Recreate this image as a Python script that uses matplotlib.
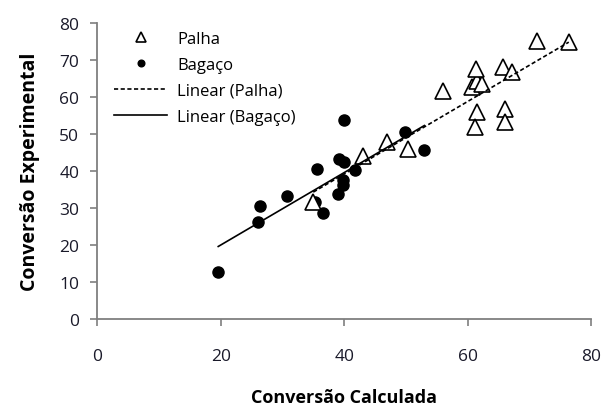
import numpy as np
import matplotlib
import matplotlib.pyplot as plt

matplotlib.use('Agg')

# Palha (triangles)
palha_x = [35.0, 43.1, 47.0, 50.4, 56.0, 60.7, 61.5, 62.3, 61.4, 65.7, 67.2, 71.2, 76.4, 61.5, 66.1, 61.2, 66.1]
palha_y = [31.6, 44.0, 47.8, 45.9, 61.6, 62.7, 64.3, 63.5, 67.6, 68.1, 66.8, 75.1, 74.9, 56.0, 56.8, 51.9, 53.2]

# Bagaco (dots)
bagaco_x = [19.6, 26.1, 26.4, 30.7, 35.3, 35.6, 36.6, 39.0, 39.2, 40.0, 39.8, 39.8, 40.0, 41.8, 49.9, 53.0]
bagaco_y = [12.7, 26.2, 30.5, 33.2, 31.5, 40.5, 28.5, 33.8, 43.2, 42.4, 37.6, 36.2, 53.8, 40.3, 50.5, 45.7]

ticks = [0, 10, 20, 30, 40, 50, 60, 70, 80]
xticks = [0, 20, 40, 60, 80]

plt.rcParams['font.family'] = ['Open Sans', 'DejaVu Sans']

fig = plt.figure(figsize=(6.08, 4.06), dpi=100)
ax = fig.add_axes([0.16, 0.212, 0.812, 0.729])

# linear trend lines, like Excel's
pb = np.polyfit(bagaco_x, bagaco_y, 1)
pp = np.polyfit(palha_x, palha_y, 1)
xb = np.array([min(bagaco_x), max(bagaco_x)])
xp = np.array([min(palha_x), max(palha_x)])

ax.plot(palha_x, palha_y, linestyle='none', marker='^', markersize=12,
        markerfacecolor='white', markeredgecolor='black', markeredgewidth=1.2, label='Palha', zorder=3)
ax.plot(bagaco_x, bagaco_y, linestyle='none', marker='o', markersize=8,
        color='black', label='Bagaço', zorder=2)
ax.plot(xp, np.polyval(pp, xp), linestyle=(0, (2.5, 1.5)), color='black', linewidth=1.2,
        label='Linear (Palha)', zorder=4)
ax.plot(xb, np.polyval(pb, xb), linestyle='-', color='black', linewidth=1.2,
        label='Linear (Bagaço)', zorder=4)

ax.set_xlim(0, 80)
ax.set_ylim(0, 80)
ax.set_xticks(xticks)
ax.set_yticks(ticks)

for side in ['top', 'right']:
    ax.spines[side].set_visible(False)
for side in ['left', 'bottom']:
    ax.spines[side].set_color('#7f7f7f')
    ax.spines[side].set_linewidth(1.3)
ax.tick_params(direction='out', length=5, width=1.2, color='#7f7f7f', labelsize=12.5, labelcolor='#1a1a2a')
ax.tick_params(axis='x', pad=16)
ax.tick_params(axis='y', pad=8)

ax.set_xlabel('Conversão Calculada', fontsize=13, fontweight='bold', labelpad=17)
ax.set_ylabel('Conversão Experimental', fontsize=14, fontweight='bold', labelpad=14)

ax.legend(loc='upper left', bbox_to_anchor=(0.0, 1.03), frameon=False, fontsize=12,
          markerscale=0.6, handlelength=3.2, handletextpad=0.6, labelspacing=0.6, borderaxespad=0.6)

fig.savefig('out.png', dpi=100)
